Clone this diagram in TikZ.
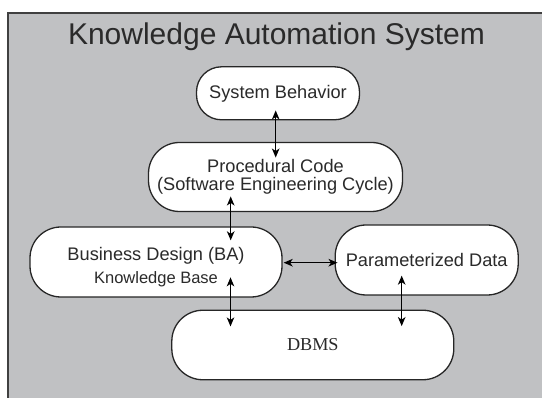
\documentclass[tikz,border=0pt]{standalone}
\usepackage{fontspec}
\setmainfont{Liberation Sans}
\newfontfamily\dbfont{Liberation Serif}
\usepackage{tikz}
\usetikzlibrary{arrows.meta,positioning,calc}
\definecolor{PanelGray}{HTML}{C0C1C3}
\definecolor{InkGray}{HTML}{2A2A2A}
\tikzset{
  linkarrow/.style={{Stealth[length=9pt,width=7.5pt,inset=2.5pt]}-{Stealth[length=9pt,width=7.5pt,inset=2.5pt]},
    line width=1.4pt, draw=black},
  paneltitle/.style={font=\fontsize{30}{34}\selectfont, text=InkGray, anchor=base, inner sep=0pt}
}

\begin{document}
\begin{tikzpicture}[
  x=1pt, y=-1pt,
  box/.style={draw=black!85, line width=1.3pt, fill=white, rounded corners=31pt,
    align=center, inner sep=0pt, text=InkGray, font=\fontsize{18.2}{17.5}\selectfont}
]
\useasboundingbox (0,0) rectangle (542,398);
\clip (0,0) rectangle (542,398);
\fill[white] (0,0) rectangle (542,398);
\draw[fill=PanelGray, draw=black!75, line width=2pt] (8.3,12.7) rectangle (560,420);

\node[paneltitle] at (276.5,45) (title) {Knowledge Automation System};

\node[box, rounded corners=25pt, minimum width=163pt, minimum height=53pt] at (278,93.3) (behavior) {System Behavior};
\node[box, minimum width=254pt, minimum height=69pt] at (275.5,177) (code) {Procedural Code\\(Software Engineering Cycle)};
\node[box, minimum width=252pt, minimum height=70pt, font=\fontsize{18.2}{21}\selectfont] at (156,262) (design) {\rule{0pt}{23pt}Business Design (BA)\\[2.5pt]{\fontsize{16.5}{21}\selectfont Knowledge Base}};
\node[box, minimum width=183pt, minimum height=70pt] at (426.7,260) (params) {Parameterized Data};
\node[box, minimum width=282pt, minimum height=69.5pt, font=\dbfont\fontsize{18.2}{21}\selectfont] at (312.8,345) (dbms) {DBMS};

\draw[linkarrow, shorten <=-10pt, shorten >=-15.7pt] ([xshift=-2.3pt]behavior.south) -- ([xshift=-2.3pt]behavior.south |- code.north);
\draw[linkarrow, shorten <=-15.7pt, shorten >=-14pt] ([xshift=-44.8pt]code.south) -- ([xshift=-44.8pt]code.south |- design.north);
\draw[linkarrow, shorten <=1pt, shorten >=-3pt] ([yshift=-0.7pt]design.east) -- ([yshift=-0.7pt]design.east -| params.west);
\draw[linkarrow, shorten <=-20.3pt, shorten >=-16.8pt] ([xshift=74.5pt]design.south) -- ([xshift=74.5pt]design.south |- dbms.north);
\draw[linkarrow, shorten <=-20pt, shorten >=-16.5pt] ([xshift=-25pt]params.south) -- ([xshift=-25pt]params.south |- dbms.north);
\end{tikzpicture}
\end{document}
